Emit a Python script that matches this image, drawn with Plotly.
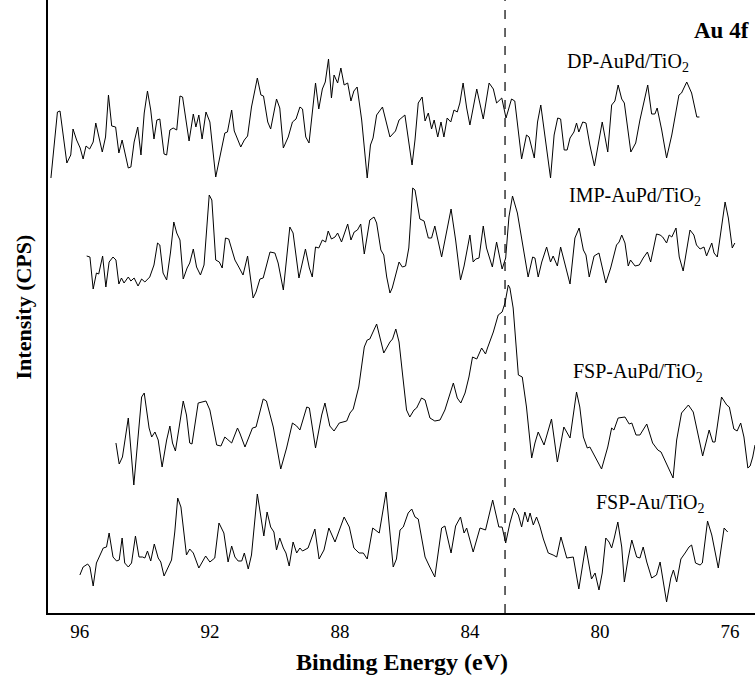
import plotly.graph_objects as go

# ---------------- data (binding energy in eV, intensity in arbitrary CPS units) ----------------
dp_be = [96.89, 96.69, 96.61, 96.40, 96.28, 96.21, 96.10, 95.99, 95.90, 95.81,
         95.70, 95.59, 95.51, 95.31, 95.21, 95.12, 95.02, 94.90, 94.80, 94.70,
         94.51, 94.43, 94.33, 94.22, 94.12, 94.02, 93.92, 93.82, 93.72, 93.63,
         93.54, 93.41, 93.33, 93.23, 93.13, 93.02, 92.92, 92.84, 92.64, 92.51,
         92.43, 92.34, 92.24, 92.12, 92.00, 91.82, 91.54, 91.46, 91.33, 91.25,
         91.05, 90.94, 90.84, 90.72, 90.54, 90.43, 90.35, 90.22, 90.13, 89.95,
         89.85, 89.74, 89.59, 89.46, 89.35, 89.23, 89.15, 89.05, 88.95, 88.75,
         88.65, 88.54, 88.45, 88.35, 88.26, 88.18, 88.07, 87.97, 87.87, 87.76,
         87.66, 87.57, 87.47, 87.33, 87.16, 87.06, 86.98, 86.87, 86.69, 86.46,
         86.29, 86.18, 86.00, 85.90, 85.78, 85.69, 85.59, 85.47, 85.38, 85.28,
         85.18, 85.10, 84.99, 84.89, 84.80, 84.70, 84.59, 84.49, 84.39, 84.31,
         84.21, 84.10, 84.00, 83.79, 83.59, 83.41, 83.28, 83.18, 83.02, 82.89,
         82.72, 82.62, 82.41, 82.26, 82.18, 82.02, 81.92, 81.82, 81.52, 81.41,
         81.30, 81.21, 81.10, 81.01, 80.92, 80.80, 80.72, 80.65, 80.53, 80.43,
         80.31, 80.17, 80.05, 79.93, 79.76, 79.64, 79.54, 79.44, 79.33, 79.25,
         79.05, 78.90, 78.77, 78.53, 78.41, 78.31, 78.24, 78.10, 77.95, 77.79,
         77.57, 77.49, 77.33, 77.18, 77.02, 76.94]
dp_cps = [435, 501, 502, 450, 458, 484, 473, 465, 454, 467,
          464, 471, 490, 461, 476, 518, 487, 486, 460, 473,
          445, 446, 471, 486, 458, 500, 522, 503, 474, 493,
          494, 459, 458, 483, 485, 483, 517, 516, 472, 499,
          486, 498, 474, 501, 491, 436, 480, 481, 503, 482,
          466, 473, 477, 506, 535, 518, 517, 491, 484, 514,
          505, 465, 476, 491, 494, 506, 504, 476, 470, 530,
          504, 524, 531, 554, 515, 538, 530, 545, 528, 530,
          512, 522, 526, 493, 435, 468, 475, 498, 506, 476,
          482, 493, 498, 476, 448, 473, 510, 516, 492, 500,
          484, 493, 476, 491, 476, 495, 491, 503, 501, 510,
          530, 505, 488, 524, 494, 530, 524, 510, 515, 495,
          514, 512, 454, 478, 476, 455, 491, 508, 435, 478,
          495, 494, 463, 463, 475, 481, 490, 481, 491, 490,
          468, 447, 470, 491, 461, 508, 512, 528, 514, 510,
          461, 470, 493, 528, 499, 499, 505, 483, 455, 478,
          518, 520, 531, 520, 496, 496]

imp_be = [95.79, 95.69, 95.59, 95.49, 95.42, 95.30, 95.20, 95.10, 94.98, 94.89,
          94.80, 94.72, 94.64, 94.51, 94.43, 94.33, 94.21, 94.10, 94.00, 93.85,
          93.72, 93.61, 93.54, 93.44, 93.33, 93.21, 93.11, 93.02, 92.92, 92.82,
          92.70, 92.62, 92.51, 92.41, 92.29, 92.18, 92.02, 91.94, 91.82, 91.71,
          91.62, 91.52, 91.42, 91.23, 91.11, 90.98, 90.84, 90.67, 90.58, 90.46,
          90.36, 90.15, 90.00, 89.90, 89.74, 89.54, 89.44, 89.26, 89.06, 88.94,
          88.85, 88.75, 88.65, 88.54, 88.44, 88.36, 88.26, 88.15, 88.07, 87.95,
          87.76, 87.66, 87.56, 87.46, 87.36, 87.25, 87.08, 86.95, 86.87, 86.74,
          86.65, 86.56, 86.46, 86.39, 86.18, 86.08, 85.98, 85.88, 85.76, 85.69,
          85.54, 85.41, 85.28, 85.18, 85.08, 84.87, 84.58, 84.44, 84.29, 84.18,
          84.00, 83.90, 83.82, 83.72, 83.59, 83.49, 83.31, 83.18, 83.01, 82.90,
          82.80, 82.69, 82.54, 82.21, 82.07, 82.00, 81.90, 81.79, 81.64, 81.52,
          81.44, 81.31, 81.21, 81.11, 80.92, 80.77, 80.64, 80.51, 80.43, 80.33,
          80.18, 80.03, 79.90, 79.82, 79.67, 79.49, 79.41, 79.33, 79.23, 79.13,
          79.06, 78.92, 78.79, 78.67, 78.54, 78.44, 78.26, 78.15, 78.07, 77.95,
          77.87, 77.79, 77.66, 77.56, 77.44, 77.23, 77.11, 77.03, 76.92, 76.80,
          76.72, 76.56, 76.49, 76.39, 76.15, 76.05, 75.93, 75.85]
imp_cps = [357, 356, 324, 340, 339, 357, 326, 351, 356, 353,
           329, 335, 330, 336, 332, 335, 327, 334, 331, 336,
           348, 370, 368, 340, 333, 361, 391, 380, 373, 334,
           345, 350, 364, 346, 338, 348, 418, 413, 353, 351,
           345, 375, 374, 353, 346, 338, 357, 315, 321, 334,
           335, 361, 360, 350, 323, 386, 380, 335, 364, 345,
           336, 366, 365, 373, 371, 382, 374, 376, 380, 371,
           389, 373, 381, 383, 389, 359, 393, 396, 390, 363,
           358, 336, 320, 325, 351, 346, 347, 365, 425, 423,
           394, 392, 375, 375, 387, 356, 404, 373, 333, 347,
           378, 351, 354, 355, 387, 365, 346, 371, 344, 355,
           396, 417, 400, 336, 356, 355, 336, 351, 366, 351,
           357, 347, 366, 353, 329, 375, 385, 363, 358, 336,
           357, 360, 342, 330, 345, 368, 371, 378, 370, 347,
           353, 347, 348, 355, 361, 351, 379, 378, 376, 370,
           378, 376, 385, 356, 342, 383, 378, 368, 364, 366,
           357, 370, 360, 356, 411, 395, 365, 370]

fspaupd_be = [94.89, 94.79, 94.69, 94.51, 94.34, 94.10, 94.02, 93.87, 93.79, 93.69,
              93.59, 93.47, 93.33, 93.23, 93.15, 93.06, 92.82, 92.72, 92.62, 92.55,
              92.36, 92.12, 92.00, 91.79, 91.66, 91.54, 91.47, 91.33, 91.15, 91.08,
              90.92, 90.79, 90.69, 90.58, 90.36, 90.26, 90.05, 89.82, 89.64, 89.46,
              89.33, 89.23, 89.02, 88.94, 88.75, 88.56, 88.46, 88.31, 88.18, 88.02,
              87.79, 87.69, 87.59, 87.42, 87.25, 87.16, 87.08, 86.87, 86.65, 86.46,
              86.38, 86.28, 86.18, 86.07, 85.95, 85.85, 85.72, 85.64, 85.49, 85.38,
              85.23, 85.08, 84.92, 84.77, 84.62, 84.51, 84.39, 84.28, 84.15, 84.03,
              83.92, 83.79, 83.64, 83.52, 83.46, 83.28, 83.13, 83.01, 82.92, 82.82,
              82.77, 82.67, 82.51, 82.39, 82.26, 82.10, 82.00, 81.90, 81.72, 81.49,
              81.31, 81.11, 80.92, 80.72, 80.62, 80.51, 80.39, 80.31, 79.95, 79.76,
              79.64, 79.57, 79.44, 79.23, 79.10, 79.02, 78.89, 78.77, 78.56, 78.38,
              78.22, 78.12, 77.75, 77.64, 77.49, 77.28, 77.13, 76.84, 76.64, 76.53,
              76.46, 76.26, 76.10, 76.02, 75.88, 75.78, 75.67, 75.57, 75.45, 75.38,
              75.30, 75.23]
fspaupd_cps = [170, 149, 156, 195, 128, 216, 220, 185, 176, 181,
               173, 146, 173, 187, 170, 162, 212, 198, 170, 169,
               210, 212, 203, 168, 167, 176, 174, 170, 185, 180,
               166, 177, 185, 186, 214, 212, 186, 144, 165, 190,
               187, 183, 206, 205, 165, 198, 210, 187, 182, 190,
               192, 200, 204, 226, 266, 273, 274, 289, 260, 271,
               274, 284, 271, 238, 203, 196, 203, 205, 215, 213,
               195, 192, 193, 203, 219, 230, 215, 210, 220, 236,
               256, 254, 265, 259, 265, 281, 298, 301, 310, 328,
               325, 305, 238, 236, 206, 155, 170, 181, 168, 194,
               151, 186, 175, 221, 206, 176, 165, 166, 144, 166,
               185, 183, 195, 196, 189, 190, 178, 178, 189, 170,
               163, 161, 135, 173, 200, 208, 201, 157, 183, 171,
               171, 216, 208, 206, 184, 182, 190, 176, 145, 147,
               156, 168]

fspau_be = [96.00, 95.90, 95.76, 95.69, 95.59, 95.49, 95.42, 95.28, 95.18, 95.10,
            94.98, 94.87, 94.79, 94.70, 94.62, 94.51, 94.41, 94.29, 94.18, 94.07,
            94.00, 93.92, 93.82, 93.71, 93.59, 93.51, 93.41, 93.28, 93.18, 93.08,
            92.99, 92.89, 92.72, 92.62, 92.51, 92.34, 92.13, 92.00, 91.85, 91.72,
            91.57, 91.44, 91.33, 91.23, 91.13, 91.02, 90.94, 90.82, 90.72, 90.54,
            90.43, 90.34, 90.24, 90.13, 90.03, 89.95, 89.85, 89.74, 89.66, 89.56,
            89.44, 89.33, 89.23, 89.15, 88.98, 88.77, 88.64, 88.49, 88.34, 88.15,
            87.87, 87.71, 87.57, 87.41, 87.28, 87.16, 86.99, 86.79, 86.58, 86.36,
            86.26, 86.15, 86.05, 85.90, 85.79, 85.69, 85.59, 85.38, 85.25, 85.08,
            84.87, 84.77, 84.58, 84.44, 84.29, 84.18, 84.10, 83.90, 83.69, 83.52,
            83.30, 83.11, 83.01, 82.90, 82.77, 82.64, 82.51, 82.41, 82.31, 82.22,
            82.15, 82.05, 81.95, 81.85, 81.74, 81.59, 81.44, 81.33, 81.20, 81.02,
            80.82, 80.65, 80.44, 80.26, 80.15, 80.03, 79.93, 79.82, 79.72, 79.64,
            79.56, 79.45, 79.33, 79.25, 79.13, 79.02, 78.87, 78.77, 78.67, 78.56,
            78.41, 78.26, 78.15, 78.05, 77.95, 77.82, 77.74, 77.64, 77.51, 77.38,
            77.26, 77.18, 77.06, 76.92, 76.85, 76.69, 76.56, 76.36, 76.18, 76.07]
fspau_cps = [38, 46, 49, 46, 27, 50, 55, 65, 66, 80,
             56, 52, 53, 75, 50, 46, 50, 77, 56, 56,
             55, 62, 52, 69, 55, 51, 37, 46, 53, 81,
             115, 106, 58, 64, 60, 45, 57, 51, 55, 90,
             80, 51, 67, 56, 52, 52, 60, 44, 58, 119,
             98, 77, 101, 86, 81, 63, 75, 65, 60, 47,
             71, 60, 65, 62, 65, 84, 54, 63, 85, 71,
             96, 86, 65, 60, 60, 54, 85, 80, 121, 46,
             54, 83, 86, 100, 104, 96, 94, 56, 47, 36,
             85, 87, 60, 87, 96, 80, 85, 61, 85, 83,
             113, 86, 86, 70, 90, 105, 98, 86, 101, 91,
             100, 88, 96, 87, 74, 60, 58, 56, 76, 55,
             56, 24, 67, 34, 40, 23, 40, 75, 71, 65,
             75, 91, 66, 31, 55, 73, 56, 55, 66, 51,
             35, 38, 51, 31, 11, 35, 43, 31, 54, 60,
             66, 68, 50, 48, 50, 92, 78, 45, 85, 81]

series_names = ["DP-AuPd/TiO<sub>2</sub>", "IMP-AuPd/TiO<sub>2</sub>",
                "FSP-AuPd/TiO<sub>2</sub>", "FSP-Au/TiO<sub>2</sub>"]
x_ticks = [96, 92, 88, 84, 80, 76]
ref_line_be = 82.92

# ---------------- figure ----------------
SERIF = "Liberation Serif, Times New Roman, serif"
fig = go.Figure()
for xs, ys, nm in [(dp_be, dp_cps, series_names[0]), (imp_be, imp_cps, series_names[1]),
                   (fspaupd_be, fspaupd_cps, series_names[2]), (fspau_be, fspau_cps, series_names[3])]:
    fig.add_trace(go.Scatter(x=xs, y=ys, mode="lines", name=nm,
                             line=dict(color="black", width=1), showlegend=False,
                             hoverinfo="skip"))

fig.add_shape(type="line", x0=ref_line_be, x1=ref_line_be, xref="x", y0=0, y1=1, yref="paper",
              line=dict(color="black", width=1.2, dash="dash"))

label_pos = [(79.14, 551), (78.92, 417), (78.83, 241), (78.46, 110)]
for (lx, ly), nm in zip(label_pos, series_names):
    fig.add_annotation(x=lx, y=ly, xref="x", yref="y", text=nm, showarrow=False,
                       font=dict(family=SERIF, size=20, color="black"))
fig.add_annotation(x=76.25, y=583, xref="x", yref="y", text="<b>Au 4f</b>", showarrow=False,
                   font=dict(family=SERIF, size=23, color="black"))

fig.add_annotation(x=0.5, y=-0.08, xref="paper", yref="paper", yanchor="middle",
                   text="<b>Binding Energy (eV)</b>", showarrow=False,
                   font=dict(family=SERIF, size=24, color="black"))
fig.add_annotation(x=-0.034, y=0.5, xref="paper", yref="paper", xanchor="center",
                   text="<b>Intensity (CPS)</b>", showarrow=False, textangle=-90,
                   font=dict(family=SERIF, size=22, color="black"))

fig.update_layout(
    width=755, height=675,
    margin=dict(l=48, r=0, t=0, b=62),
    paper_bgcolor="white", plot_bgcolor="white",
    xaxis=dict(range=[96.98, 75.23], tickvals=x_ticks, ticktext=[str(t) for t in x_ticks],
               showline=True, linecolor="black", linewidth=1.5, ticks="",
               showgrid=False, zeroline=False,
               tickfont=dict(family=SERIF, size=19, color="black")),
    yaxis=dict(range=[0, 613], showticklabels=False, showline=True, linecolor="black",
               linewidth=1.5, ticks="", showgrid=False, zeroline=False),
)

fig.write_html("out.html")
